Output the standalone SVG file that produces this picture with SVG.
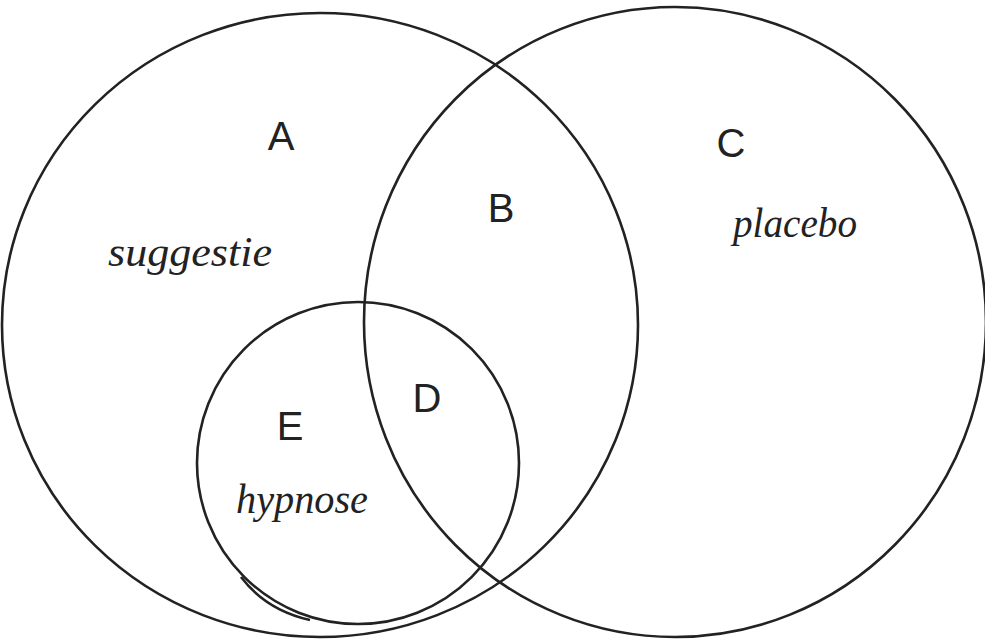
<svg xmlns="http://www.w3.org/2000/svg" width="985" height="641" viewBox="0 0 985 641">
<style>
.c{fill:none;stroke:#222;stroke-width:2.6}
.l{font-family:"Liberation Sans",sans-serif;font-size:40px;fill:#222;text-anchor:middle}
.w{font-family:"Liberation Serif",serif;font-style:italic;font-size:42px;fill:#222}
</style>
<rect width="985" height="641" fill="#fff"/>
<g id="suggestie-set">
<ellipse class="c" cx="320" cy="325" rx="318" ry="312"/>
<text class="l" x="281" y="150">A</text>
<text class="w" x="108" y="266" textLength="164" lengthAdjust="spacingAndGlyphs">suggestie</text>
</g>
<g id="placebo-set">
<ellipse class="c" cx="675" cy="322" rx="311" ry="315"/>
<text class="l" x="501" y="222">B</text>
<text class="l" x="731" y="157">C</text>
<text class="w" x="733" y="237" textLength="124" lengthAdjust="spacingAndGlyphs">placebo</text>
</g>
<g id="hypnose-set">
<ellipse class="c" cx="358" cy="463" rx="161" ry="161"/>
<path class="c" d="M241 577 Q 266 610 310 620" stroke-width="1.6"/>
<text class="l" x="290" y="440">E</text>
<text class="l" x="427" y="412">D</text>
<text class="w" x="236" y="513" textLength="132" lengthAdjust="spacingAndGlyphs">hypnose</text>
</g>
</svg>
